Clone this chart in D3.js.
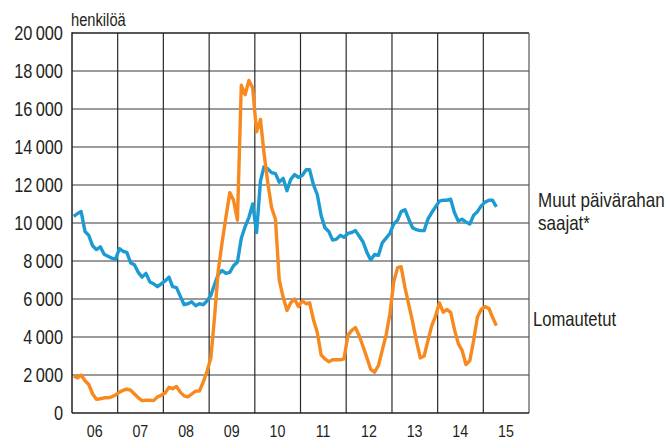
<!DOCTYPE html>
<html>
<head>
<meta charset="utf-8">
<script src="https://cdn.jsdelivr.net/npm/d3@7"></script>
<style>
  html, body { margin: 0; padding: 0; background: #fff; }
  svg text { font-family: "Liberation Sans", Arial, sans-serif; fill: #231f20; }
</style>
</head>
<body>
<svg id="chart" width="667" height="441"></svg>
<script>
// ---- data (thousands of persons, monthly from Jan 2006) ----
const startYear = 2006;
const yearLabels = ["06","07","08","09","10","11","12","13","14","15"];
const yTicks = [0,2000,4000,6000,8000,10000,12000,14000,16000,18000,20000];
const seriesNames = ["Muut päivärahan saajat*", "Lomautetut"];
const muutValues = [
  10.35,10.5,10.6,9.55,9.35,8.8,8.6,8.75,8.35,8.25,8.15,8.1,
  8.65,8.5,8.45,7.9,7.8,7.4,7.15,7.35,6.9,6.8,6.65,6.8,
  6.95,7.15,6.65,6.6,6.15,5.7,5.75,5.85,5.65,5.75,5.7,5.9,
  6.2,6.8,7.3,7.5,7.35,7.4,7.75,7.95,9.2,9.8,10.3,11.0,
  9.5,12.2,12.95,12.85,12.65,12.6,12.15,12.35,11.7,12.3,12.55,12.4,
  12.5,12.8,12.8,12.0,11.5,10.4,9.75,9.55,9.1,9.15,9.35,9.25,
  9.45,9.5,9.6,9.3,9.0,8.45,8.05,8.35,8.3,8.95,9.2,9.45,
  9.95,10.15,10.6,10.7,10.2,9.75,9.65,9.6,9.6,10.2,10.55,10.85,
  11.15,11.2,11.2,11.25,10.55,10.1,10.2,10.05,9.95,10.4,10.6,10.9,
  11.1,11.2,11.2,10.85
];
const lomautetutValues = [
  1.95,1.85,2.0,1.7,1.5,1.0,0.72,0.75,0.8,0.8,0.85,0.95,
  1.1,1.2,1.25,1.2,1.0,0.8,0.65,0.67,0.67,0.65,0.85,0.93,
  1.05,1.35,1.28,1.4,1.1,0.9,0.85,1.0,1.15,1.15,1.63,2.2,
  2.9,5.2,7.5,9.0,10.3,11.6,11.2,10.15,17.25,16.75,17.5,17.1,
  14.8,15.45,13.7,12.1,10.8,10.2,7.0,6.1,5.4,5.8,6.0,5.6,
  5.9,5.75,5.8,4.9,4.25,3.05,2.85,2.7,2.8,2.8,2.8,2.85,
  4.1,4.35,4.5,4.05,3.5,2.9,2.3,2.15,2.5,3.3,4.1,5.2,
  6.9,7.65,7.7,6.6,5.7,4.8,3.8,2.9,3.0,3.8,4.6,5.1,
  5.8,5.3,5.45,5.3,4.4,3.65,3.3,2.55,2.75,3.8,5.05,5.45,
  5.6,5.5,5.05,4.6
];

// ---- layout ----
const M = { left: 72, right: 529, top: 33, bottom: 413 };
const colors = { muut: "#1b9bd1", lomautetut: "#f7891f" };
const SX = 0.84; // horizontal condensing of the type

const svg = d3.select("#chart");
const x = d3.scaleTime()
  .domain([new Date(startYear, 0, 1), new Date(startYear + 10, 0, 1)])
  .range([M.left, M.right]);
const y = d3.scaleLinear().domain([0, 20000]).range([M.bottom, M.top]);

const loc = d3.formatLocale({ decimal: ",", thousands: "\u2009", grouping: [3], currency: ["", ""] });
const fmt = loc.format(",d");

// condensed text group
const tg = () => svg.append("g").attr("transform", `scale(${SX},1)`);

// horizontal gridlines
svg.append("g").selectAll("line").data(yTicks.filter(d => d > 0)).join("line")
  .attr("x1", M.left).attr("x2", M.right)
  .attr("y1", d => y(d)).attr("y2", d => y(d))
  .attr("stroke", d => d === 20000 ? "#231f20" : "#7a7a7a")
  .attr("stroke-width", 1.4);

// vertical year gridlines
const yearBounds = d3.range(1, 11).map(i => new Date(startYear + i, 0, 1));
svg.append("g").selectAll("line").data(yearBounds).join("line")
  .attr("x1", d => x(d)).attr("x2", d => x(d))
  .attr("y1", M.top).attr("y2", M.bottom)
  .attr("stroke", (d, i) => i === 9 ? "#555" : "#2a2a2a")
  .attr("stroke-width", 1.2);

// y axis labels
tg().selectAll("text").data(yTicks).join("text")
  .attr("x", 63 / SX).attr("y", d => y(d))
  .attr("dy", "0.36em")
  .attr("text-anchor", "end")
  .attr("font-size", 19.5)
  .text(d => fmt(d));

// x axis labels
tg().selectAll("text").data(yearLabels).join("text")
  .attr("x", (d, i) => x(new Date(startYear + i, 6, 1)) / SX)
  .attr("y", 437)
  .attr("text-anchor", "middle")
  .attr("font-size", 17)
  .text(d => d);

// unit
tg().append("text").attr("x", 71 / SX).attr("y", 26).attr("font-size", 17.5).text("henkilöä");

// lines
const line = d3.line()
  .x((d, i) => x(new Date(startYear, i, 15)))
  .y(d => y(d * 1000));

svg.append("path").datum(muutValues)
  .attr("fill", "none").attr("stroke", colors.muut)
  .attr("stroke-width", 3.4).attr("stroke-linejoin", "round")
  .attr("d", line);
svg.append("path").datum(lomautetutValues)
  .attr("fill", "none").attr("stroke", colors.lomautetut)
  .attr("stroke-width", 3.4).attr("stroke-linejoin", "round")
  .attr("d", line);

// frame: left and bottom axis
svg.append("line").attr("x1", M.left).attr("x2", M.left).attr("y1", M.top - 0.7).attr("y2", M.bottom)
  .attr("stroke", "#231f20").attr("stroke-width", 1.5);
svg.append("line").attr("x1", M.left).attr("x2", M.right).attr("y1", M.bottom).attr("y2", M.bottom)
  .attr("stroke", "#231f20").attr("stroke-width", 1.5);

// series labels
const lg = svg.append("g").attr("transform", "scale(0.81,1)");
const lab1 = lg.append("text").attr("y", 207.5).attr("font-size", 21);
lab1.append("tspan").attr("x", 538 / 0.81).text("Muut päivärahan");
lab1.append("tspan").attr("x", 538 / 0.81).attr("dy", 22.5).text("saajat*");
lg.append("text").attr("x", 533 / 0.81).attr("y", 326).attr("font-size", 20.5).text(seriesNames[1]);
</script>
</body>
</html>
